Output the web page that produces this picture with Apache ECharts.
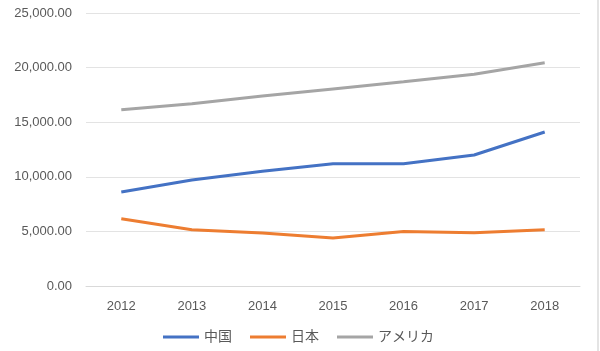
<!DOCTYPE html>
<html>
<head>
<meta charset="utf-8">
<script src="https://cdn.jsdelivr.net/npm/echarts@6/dist/echarts.min.js"></script>
<style>
html, body { margin: 0; padding: 0; background: #fff; }
#main { width: 597px; height: 351px; border-right: 2px solid #e4e4e4; }
</style>
</head>
<body>
<div id="main"></div>
<script>
// 年
var years = ['2012', '2013', '2014', '2015', '2016', '2017', '2018'];
// 系列の値
var china = [8600, 9700, 10500, 11200, 11200, 12000, 14100];
var japan = [6150, 5150, 4850, 4400, 5000, 4880, 5150];
var usa = [16150, 16700, 17400, 18050, 18700, 19400, 20450];

var chart = echarts.init(document.getElementById('main'));

function lineSeries(name, data, color) {
    return {
        name: name,
        type: 'line',
        data: data,
        symbol: 'none',
        smooth: false,
        lineStyle: { color: color, width: 3 },
        itemStyle: { color: color }
    };
}

var option = {
    backgroundColor: '#fff',
    animation: false,
    textStyle: { fontFamily: 'Liberation Sans, Noto Sans CJK JP' },
    grid: { left: 86, right: 17, top: 13, bottom: 65 },
    legend: {
        bottom: 2,
        left: 'center',
        itemWidth: 36,
        itemHeight: 3,
        itemGap: 18,
        icon: 'rect',
        textStyle: { color: '#595959', fontSize: 14 },
        data: ['中国', '日本', 'アメリカ']
    },
    xAxis: {
        type: 'category',
        data: years,
        axisLine: { lineStyle: { color: '#d9d9d9' } },
        axisTick: { show: false },
        axisLabel: { color: '#595959', fontSize: 13, margin: 14 }
    },
    yAxis: {
        type: 'value',
        min: 0,
        max: 25000,
        interval: 5000,
        axisLine: { show: false },
        axisTick: { show: false },
        splitLine: { lineStyle: { color: '#e3e3e3' } },
        axisLabel: {
            color: '#595959',
            fontSize: 13,
            margin: 14,
            formatter: function (v) {
                return v.toLocaleString('en-US', { minimumFractionDigits: 2, maximumFractionDigits: 2 });
            }
        }
    },
    series: [
        lineSeries('中国', china, '#4472c4'),
        lineSeries('日本', japan, '#ed7d31'),
        lineSeries('アメリカ', usa, '#a5a5a5')
    ]
};

chart.setOption(option);
window.onresize = function () {
    chart.resize();
};
</script>
</body>
</html>
